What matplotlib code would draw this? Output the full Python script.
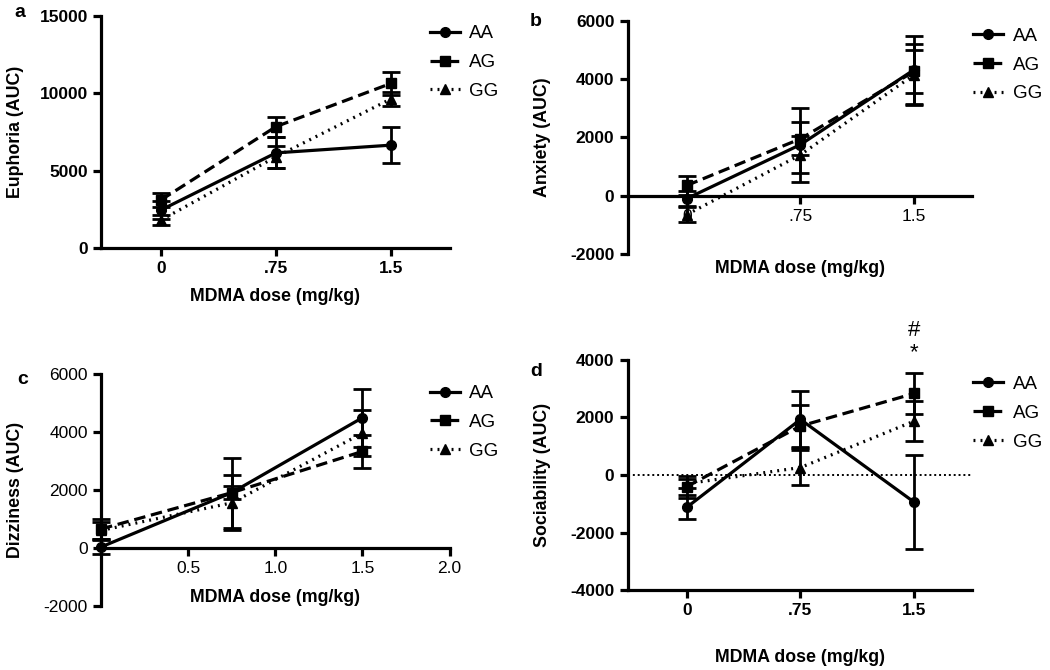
import numpy as np
import matplotlib
matplotlib.use("Agg")
import matplotlib.pyplot as plt

plt.rcParams["font.family"] = ["Liberation Sans", "DejaVu Sans"]
plt.rcParams["axes.unicode_minus"] = False

dose = [0, 0.75, 1.5]
genotypes = ["AA", "AG", "GG"]

# panel a: euphoria
euph_mean = {"AA": [2450, 6150, 6650], "AG": [3100, 7850, 10650], "GG": [1800, 5900, 9650]}
euph_err = {"AA": [600, 1000, 1180], "AG": [450, 650, 730], "GG": [350, 700, 450]}

# panel b: anxiety
anx_mean = {"AA": [-100, 1750, 4320], "AG": [350, 1950, 4260], "GG": [-650, 1400, 4150]}
anx_err = {"AA": [250, 1270, 1170], "AG": [320, 560, 730], "GG": [250, 630, 1050]}

# panel c: dizziness
diz_mean = {"AA": [30, 1900, 4480], "AG": [650, 1900, 3320], "GG": [600, 1550, 3950]}
diz_err = {"AA": [230, 1200, 1000], "AG": [330, 220, 570], "GG": [300, 950, 800]}

# panel d: sociability
soc_mean = {"AA": [-1120, 1930, -940], "AG": [-400, 1700, 2830], "GG": [-300, 260, 1870]}
soc_err = {"AA": [420, 980, 1620], "AG": [380, 720, 700], "GG": [150, 600, 700]}

styles = {"AA": dict(marker="o", linestyle="-"),
          "AG": dict(marker="s", linestyle=(0, (3.6, 1.8))),
          "GG": dict(marker="^", linestyle=(0, (0.6, 1.6)))}

fig = plt.figure(figsize=(10.5, 6.7), dpi=100)
ax_a = fig.add_axes([0.0962, 0.630, 0.332, 0.346])
ax_b = fig.add_axes([0.5978, 0.621, 0.3276, 0.348])
ax_c = fig.add_axes([0.0962, 0.0955, 0.332, 0.347])
ax_d = fig.add_axes([0.5978, 0.119, 0.3276, 0.344])

panels = [
    (ax_a, euph_mean, euph_err, "Euphoria (AUC)", (0, 15000), [0, 5000, 10000, 15000], "a"),
    (ax_b, anx_mean, anx_err, "Anxiety (AUC)", (-2000, 6000), [-2000, 0, 2000, 4000, 6000], "b"),
    (ax_c, diz_mean, diz_err, "Dizziness (AUC)", (-2000, 6000), [-2000, 0, 2000, 4000, 6000], "c"),
    (ax_d, soc_mean, soc_err, "Sociability (AUC)", (-4000, 4000), [-4000, -2000, 0, 2000, 4000], "d"),
]

for ax, means, errs, ylab, ylim, yticks, tag in panels:
    if tag == "d":
        ax.axhline(0, color="black", lw=1.4, linestyle=(0, (1, 1.5)), zorder=1)
    for g in genotypes:
        ax.errorbar(dose, means[g], yerr=errs[g], color="black", lw=2.3,
                    markersize=7, capsize=6.5, capthick=2.0, elinewidth=2.0,
                    clip_on=False, label=g, **styles[g])
    ax.set_ylim(*ylim)
    ax.set_yticks(yticks)
    ax.set_ylabel(ylab, fontsize=12.8, fontweight="bold")
    ax.set_xlabel("MDMA dose (mg/kg)", fontsize=12.8, fontweight="bold")
    for s in ["top", "right"]:
        ax.spines[s].set_visible(False)
    for s in ["left", "bottom"]:
        ax.spines[s].set_linewidth(2.3)
    ax.tick_params(width=2.3, length=6, labelsize=12.5)
    for lab in ax.get_xticklabels() + ax.get_yticklabels():
        lab.set_fontweight("bold")
    ax.yaxis.set_label_coords(-0.222, 0.5)

# x axes
for ax in [ax_a, ax_b, ax_d]:
    ax.set_xlim(-0.39, 1.88)
    ax.set_xticks(dose)
    ax.set_xticklabels(["0", ".75", "1.5"], fontweight="bold")
ax_c.set_xlim(0, 2.0)
ax_c.set_xticks([0.5, 1.0, 1.5, 2.0])
ax_c.set_xticklabels(["0.5", "1.0", "1.5", "2.0"], fontweight="bold")

ax_b.spines["bottom"].set_position(("data", 0))
ax_c.spines["bottom"].set_position(("data", 0))
ax_c.spines["left"].set_position(("data", 0))

ax_a.xaxis.set_label_coords(0.5, -0.175)
ax_b.xaxis.set_label_coords(0.5, -0.025)
ax_c.xaxis.set_label_coords(0.5, 0.075)
ax_d.xaxis.set_label_coords(0.5, -0.255)

# legends
leg_pos = {"a": (0.943, 0.96), "b": (1.005, 0.97), "c": (0.943, 0.95), "d": (1.005, 0.93)}
for ax, means, errs, ylab, ylim, yticks, tag in panels:
    handles, labels = ax.get_legend_handles_labels()
    handles = [h[0] for h in handles]
    ax.legend(handles, labels, loc="upper left", bbox_to_anchor=leg_pos[tag],
              frameon=False, fontsize=13.5, handlelength=1.6, handletextpad=0.5,
              labelspacing=0.62, borderaxespad=0, borderpad=0)

# panel letters
fig.text(14 / 1050, 1 - 17 / 670, "a", fontsize=14, fontweight="bold")
fig.text(530 / 1050, 1 - 26 / 670, "b", fontsize=14, fontweight="bold")
fig.text(17 / 1050, 1 - 384 / 670, "c", fontsize=14, fontweight="bold")
fig.text(530 / 1050, 1 - 376 / 670, "d", fontsize=14, fontweight="bold")

# significance markers
ax_d.text(1.5, 5000, "#", ha="center", va="center", fontsize=16)
ax_d.text(1.5, 4250, "*", ha="center", va="center", fontsize=16)

fig.savefig("out.png", dpi=100)
